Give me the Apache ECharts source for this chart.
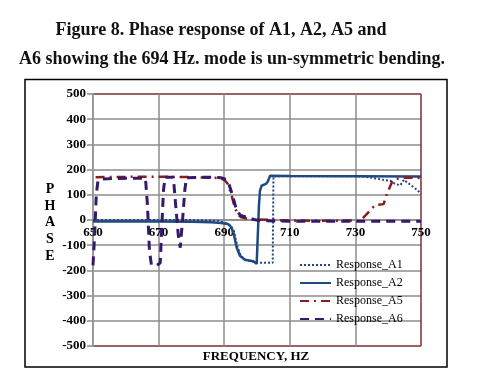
<!DOCTYPE html>
<html><head><meta charset="utf-8">
<script src="https://cdn.jsdelivr.net/npm/echarts@6/dist/echarts.min.js"></script>
<style>html,body{margin:0;padding:0;background:#fff}#c{width:481px;height:377px}</style>
</head><body><div id="c"></div>
<script>
const titleLines = ["Figure 8. Phase response of A1, A2, A5 and", "A6 showing the 694 Hz. mode is un-symmetric bending."];
const xTicks = [650, 670, 690, 710, 730, 750];
const seriesNames = ["Response_A1", "Response_A2", "Response_A5", "Response_A6"];

const a1Freq  = [650, 660, 670, 680, 688, 690, 692, 693, 694, 695, 696.3, 698.9, 700, 702, 704.8, 705, 710, 720, 730, 733.5, 736.6, 739, 740.6, 742.1, 743.7, 744.8, 745.7, 748, 750];
const a1Phase = [0, 0, 0, 0, -3, -10, -22, -45, -105, -140, -158, -166, -170, -170, -170, 173, 174, 174, 174, 171, 164, 158, 156, 143, 138, 160, 150, 128, 105];

const a2Freq  = [650, 660, 670, 680, 686, 689, 691.2, 692, 692.8, 693.8, 694.8, 696.3, 698.9, 699.9, 700.2, 700.6, 700.9, 701.4, 702.7, 703.3, 704, 710, 730, 750];
const a2Phase = [-6, -6, -6, -7, -9, -12, -16, -26, -49, -109, -142, -158, -164, -174, -170, 60, 116, 136, 143, 153, 176, 175, 174, 173];

const a5Freq  = [650.8, 660, 670, 680, 688, 690, 691, 692, 693, 694, 695, 697, 700, 710, 720, 728, 731.5, 733, 736, 738.6, 739.6, 741.1, 742.1, 745, 750];
const a5Phase = [170, 171, 172, 170, 167, 160, 145, 110, 60, 25, 12, 5, 2, -2, -3, -2, -3, 17, 59, 63, 104, 149, 163, 168, 167];

const a6Freq  = [650, 650.5, 651, 651.5, 653, 660, 666, 666.6, 667.2, 667.8, 669.5, 670.5, 671, 671.5, 672, 674.5, 675.2, 676, 676.6, 677.3, 678, 678.5, 685, 689, 690.7, 691.5, 692.5, 693.8, 695, 696.3, 698, 701, 710, 750];
const a6Phase = [-180, -60, 100, 155, 163, 166, 165, 60, -120, -178, -180, -170, -20, 120, 170, 170, 60, -60, -110, 0, 120, 168, 170, 168, 160, 140, 100, 37, 18, 13, 5, -3, -5, -5];

const pairs = (xs, ys) => xs.map((x, i) => [x, ys[i]]);
const serif = "'Liberation Serif', 'Times New Roman', serif";
const gray = '#8c8c8c', border = '#7a3030';
const W = 481, H = 377;
const gridBox = {left: 93, right: 60, top: 94, bottom: 31};
const yMin = -500, yMax = 500;
// place the x axis (labels) on the zero line of the y axis
const plotH = H - gridBox.top - gridBox.bottom;
const xAxisOffset = -plotH * (0 - yMin) / (yMax - yMin);

const chart = echarts.init(document.getElementById('c'), null, {renderer: 'canvas'});
chart.setOption({
  animation: false,
  backgroundColor: '#fff',
  grid: Object.assign({show: false}, gridBox),
  xAxis: {
    type: 'value', min: 650, max: 750, interval: 20, position: 'bottom', offset: xAxisOffset,
    axisLine: {show: true, onZero: false, lineStyle: {color: gray, width: 1.5}},
    axisTick: {show: false},
    axisLabel: {color: '#000', fontFamily: serif, fontWeight: 'bold', fontSize: 13, margin: 6,
      formatter: v => xTicks.includes(v) ? String(v) : ''},
    splitLine: {show: true, lineStyle: {color: [gray, gray, gray, gray, gray, border], width: 1.5}}
  },
  yAxis: {
    type: 'value', min: yMin, max: yMax, interval: 100,
    axisLine: {show: true, onZero: false, lineStyle: {color: '#9a9a9a', width: 2}},
    axisTick: {show: true, inside: false, length: 6, lineStyle: {color: gray, width: 1.5}},
    axisLabel: {color: '#000', fontFamily: serif, fontWeight: 'bold', fontSize: 13, margin: 7},
    splitLine: {show: true, lineStyle: {color: [border, gray, gray, gray, gray, gray, gray, gray, gray, gray, border], width: 1.5}}
  },
  legend: {
    orient: 'vertical', left: 294, top: 254, itemWidth: 31, itemHeight: 12, itemGap: 6,
    itemStyle: {opacity: 0},
    textStyle: {fontFamily: serif, fontSize: 12, color: '#000'},
    data: seriesNames
  },
  series: [
    {name: seriesNames[0], type: 'line', symbol: 'none', data: pairs(a1Freq, a1Phase),
      lineStyle: {color: '#23468a', width: 2, type: [2, 2]}, itemStyle: {color: '#23468a'}},
    {name: seriesNames[1], type: 'line', symbol: 'none', data: pairs(a2Freq, a2Phase),
      lineStyle: {color: '#1f4a80', width: 2.5, type: 'solid'}, itemStyle: {color: '#1f4a80'}},
    {name: seriesNames[2], type: 'line', symbol: 'none', data: pairs(a5Freq, a5Phase),
      lineStyle: {color: '#8b1c1c', width: 2.5, type: [9, 5, 2, 5]}, itemStyle: {color: '#8b1c1c'}},
    {name: seriesNames[3], type: 'line', symbol: 'none', data: pairs(a6Freq, a6Phase),
      lineStyle: {color: '#35196a', width: 3, type: [9, 6]}, itemStyle: {color: '#35196a'}}
  ],
  graphic: [
    {type: 'rect', shape: {x: 25, y: 79.5, width: 422, height: 287.5}, style: {fill: 'none', stroke: '#000', lineWidth: 1.5}, silent: true},
    {type: 'text', x: 221, y: 30, style: {text: titleLines[0], font: "bold 18px " + serif, fill: '#111', align: 'center', verticalAlign: 'middle'}, silent: true},
    {type: 'text', x: 232, y: 59, style: {text: titleLines[1], font: "bold 18px " + serif, fill: '#111', align: 'center', verticalAlign: 'middle'}, silent: true},
    {type: 'text', x: 50, y: 181, style: {text: 'P\nH\nA\nS\nE', font: "bold 14px " + serif, fill: '#000', align: 'center', lineHeight: 16.7}, silent: true},
    {type: 'text', x: 256, y: 357, style: {text: 'FREQUENCY, HZ', font: "bold 13px " + serif, fill: '#000', align: 'center', verticalAlign: 'middle'}, silent: true}
  ]
});
</script></body></html>
